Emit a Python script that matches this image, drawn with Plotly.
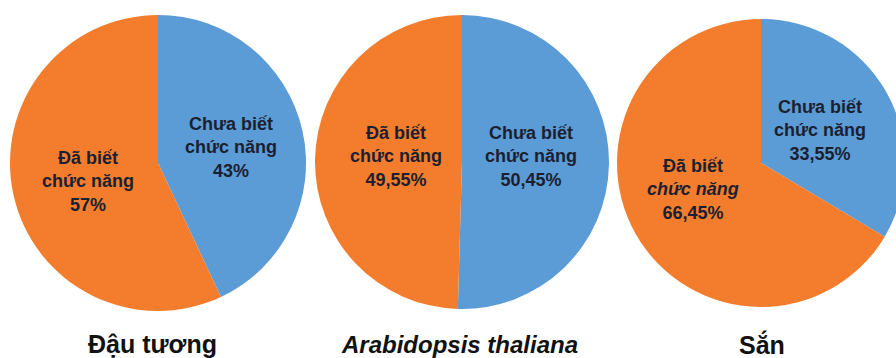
import plotly.graph_objects as go

# Share of genes with unknown / known function for three plant genomes
species = ["Đậu tương", "<i>Arabidopsis thaliana</i>", "Sắn"]
unknown_pct = [43, 50.45, 33.55]   # "Chưa biết chức năng"
known_pct = [57, 49.55, 66.45]     # "Đã biết chức năng"
pct_labels_unknown = ["43%", "50,45%", "33,55%"]
pct_labels_known = ["57%", "49,55%", "66,45%"]
slice_names = ["Chưa biết chức năng", "Đã biết chức năng"]

# the right-hand pie runs past the visible page edge, so the figure is a
# little wider than the 896px window and the overflow is hidden
W, H = 910, 358
BLUE = "#5B9BD6"
ORANGE = "#F37D2C"
TEXT = "#1b1f30"
FONT = "Liberation Sans, Arial, sans-serif"

# pie geometry in pixels: (left, right, top, bottom)
boxes = [(10, 306, 15, 311), (315, 609, 15, 309), (617, 905, 19, 307)]

fig = go.Figure()
for i, (l, r, t, b) in enumerate(boxes):
    fig.add_trace(go.Pie(
        values=[unknown_pct[i], known_pct[i]],
        labels=slice_names,
        sort=False,
        direction="clockwise",
        rotation=0,
        textinfo="none",
        hoverinfo="skip",
        showlegend=False,
        marker=dict(colors=[BLUE, ORANGE], line=dict(width=0)),
        domain=dict(x=[l / W, r / W], y=[1 - b / H, 1 - t / H]),
    ))


def px(x, y):
    return x / W, 1 - y / H


# in-slice labels: (x, y) of the middle line in pixels
label_pos_unknown = [(231, 147), (531, 156), (820, 130)]
label_pos_known = [(88, 181), (396, 156), (693, 189)]
known_middle = ["chức năng", "chức năng", "<i>chức năng</i>"]

ann = []
for i in range(3):
    x, y = px(*label_pos_unknown[i])
    ann.append(dict(x=x, y=y, xref="paper", yref="paper", showarrow=False,
                    xanchor="center", yanchor="middle", align="center",
                    text=f"<b>Chưa biết<br>chức năng<br>{pct_labels_unknown[i]}</b>",
                    font=dict(family=FONT, size=18, color=TEXT)))
    x, y = px(*label_pos_known[i])
    ann.append(dict(x=x, y=y, xref="paper", yref="paper", showarrow=False,
                    xanchor="center", yanchor="middle", align="center",
                    text=f"<b>Đã biết<br>{known_middle[i]}<br>{pct_labels_known[i]}</b>",
                    font=dict(family=FONT, size=18, color=TEXT)))

title_x = [152, 459, 762]
for i, name in enumerate(species):
    x, y = px(title_x[i], 344)
    ann.append(dict(x=x, y=y, xref="paper", yref="paper", showarrow=False,
                    xanchor="center", yanchor="middle",
                    text=f"<b>{name}</b>",
                    font=dict(family=FONT, size=25 if i != 1 else 24, color="#111111")))

fig.update_layout(
    width=W, height=H,
    margin=dict(l=0, r=0, t=0, b=0),
    paper_bgcolor="white", plot_bgcolor="white",
    annotations=ann,
)

fig.write_html(
    "out.html",
    post_script="document.documentElement.style.overflow='hidden';"
                "document.body.style.overflow='hidden';"
                "document.body.style.margin='0';",
)
